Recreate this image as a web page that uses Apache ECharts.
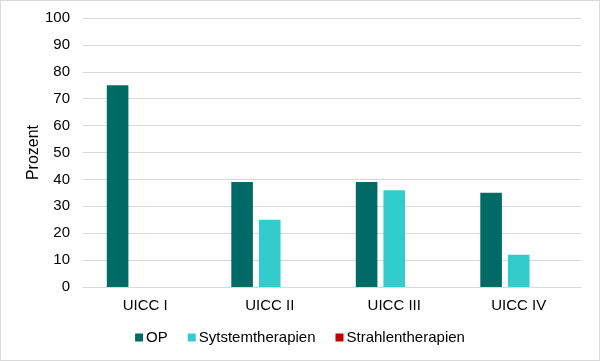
<!DOCTYPE html>
<html><head><meta charset="utf-8">
<script src="https://cdn.jsdelivr.net/npm/echarts@6/dist/echarts.min.js"></script>
<style>html,body{margin:0;padding:0;background:#fff}#c{width:598px;height:359px;border:1px solid #d9d9d9}</style>
</head><body><div id="c"></div>
<script>
const categories = ['UICC I', 'UICC II', 'UICC III', 'UICC IV'];
const seriesNames = ['OP', 'Sytstemtherapien', 'Strahlentherapien'];
const opValues = [75, 39, 39, 35];
const systemValues = [0, 25, 36, 12];
const strahlValues = [0, 0, 0, 0];
const colors = ['#006B66', '#33CCCC', '#C00000'];

const chart = echarts.init(document.getElementById('c'), null, {renderer: 'canvas'});
const font = 'Liberation Sans, Arial, sans-serif';
const mk = (name, data, color) => ({
  name, type: 'bar', data,
  barWidth: 21.6, barGap: '28%', barCategoryGap: '38%',
  itemStyle: {color}
});
chart.setOption({
  animation: false,
  color: colors,
  grid: {left: 82, right: 18, top: 17, bottom: 73},
  legend: {
    top: 324, left: 'center', itemWidth: 8, itemHeight: 8, itemGap: 20,
    icon: 'rect',
    textStyle: {fontFamily: font, fontSize: 15, color: '#000', padding: [0, 0, 0, -2]},
    data: seriesNames
  },
  xAxis: {
    type: 'category', data: categories,
    axisLine: {lineStyle: {color: '#d9d9d9', width: 1}},
    axisTick: {show: false},
    axisLabel: {fontFamily: font, fontSize: 15, color: '#000', margin: 11}
  },
  yAxis: {
    type: 'value', min: 0, max: 100, interval: 10,
    name: 'Prozent', nameLocation: 'middle', nameGap: 41, nameRotate: 90,
    nameMoveOverlap: false,
    nameTextStyle: {fontFamily: font, fontSize: 16, color: '#000'},
    axisLine: {show: false}, axisTick: {show: false},
    axisLabel: {fontFamily: font, fontSize: 15, color: '#000', margin: 13},
    splitLine: {lineStyle: {color: '#d9d9d9', width: 1}}
  },
  series: [
    mk(seriesNames[0], opValues, colors[0]),
    mk(seriesNames[1], systemValues, colors[1]),
    mk(seriesNames[2], strahlValues, colors[2])
  ]
});
</script></body></html>
